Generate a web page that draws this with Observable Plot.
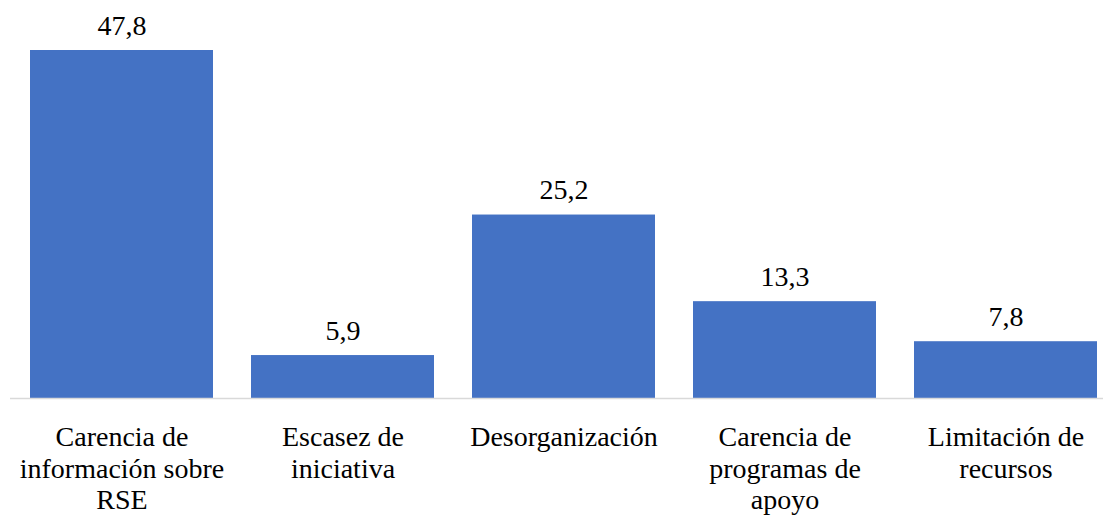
<!DOCTYPE html>
<html>
<head>
<meta charset="utf-8">
<script src="https://cdn.jsdelivr.net/npm/d3@7"></script>
<script src="https://cdn.jsdelivr.net/npm/@observablehq/plot@0.6"></script>
<style>
  html, body { margin: 0; padding: 0; background: #fff; }
  #chart svg { display: block; }
</style>
</head>
<body>
<div id="chart"></div>
<script>
const categories = ["c1", "c2", "c3", "c4", "c5"];
const tickLabels = [
  "Carencia de\ninformación sobre\nRSE",
  "Escasez de\niniciativa",
  "Desorganización",
  "Carencia de\nprogramas de\napoyo",
  "Limitación de\nrecursos"
];
const values = [47.8, 5.9, 25.2, 13.3, 7.8];

const data = categories.map((c, i) => ({cat: c, label: tickLabels[i], value: values[i]}));
const fmt = v => v.toFixed(1).replace(".", ",");
const FONT = "Liberation Serif";

const chart = Plot.plot({
  width: 1103,
  height: 515,
  marginLeft: 10,
  marginRight: 0,
  marginTop: 50,
  marginBottom: 117,
  style: {fontFamily: FONT, background: "#fff", color: "#000"},
  x: {domain: categories, paddingInner: 0.173, paddingOuter: 0.0565, align: 0.76, label: null},
  y: {domain: [0, 47.8], axis: null},
  marks: [
    Plot.barY(data, {x: "cat", y: "value", fill: "#4472C4"}),
    Plot.ruleY([0], {stroke: "#d9d9d9", strokeWidth: 1.5}),
    Plot.text(data, {x: "cat", y: "value", text: d => fmt(d.value), lineAnchor: "bottom", dy: -16, fontSize: 28, fontFamily: FONT, fill: "#000"}),
    Plot.axisX({tickSize: 0, tickPadding: 25, fontSize: 28, fontFamily: FONT, lineHeight: 1.13, tickFormat: c => tickLabels[categories.indexOf(c)], fill: "#000", label: null})
  ]
});
document.getElementById("chart").appendChild(chart);
</script>
</body>
</html>
